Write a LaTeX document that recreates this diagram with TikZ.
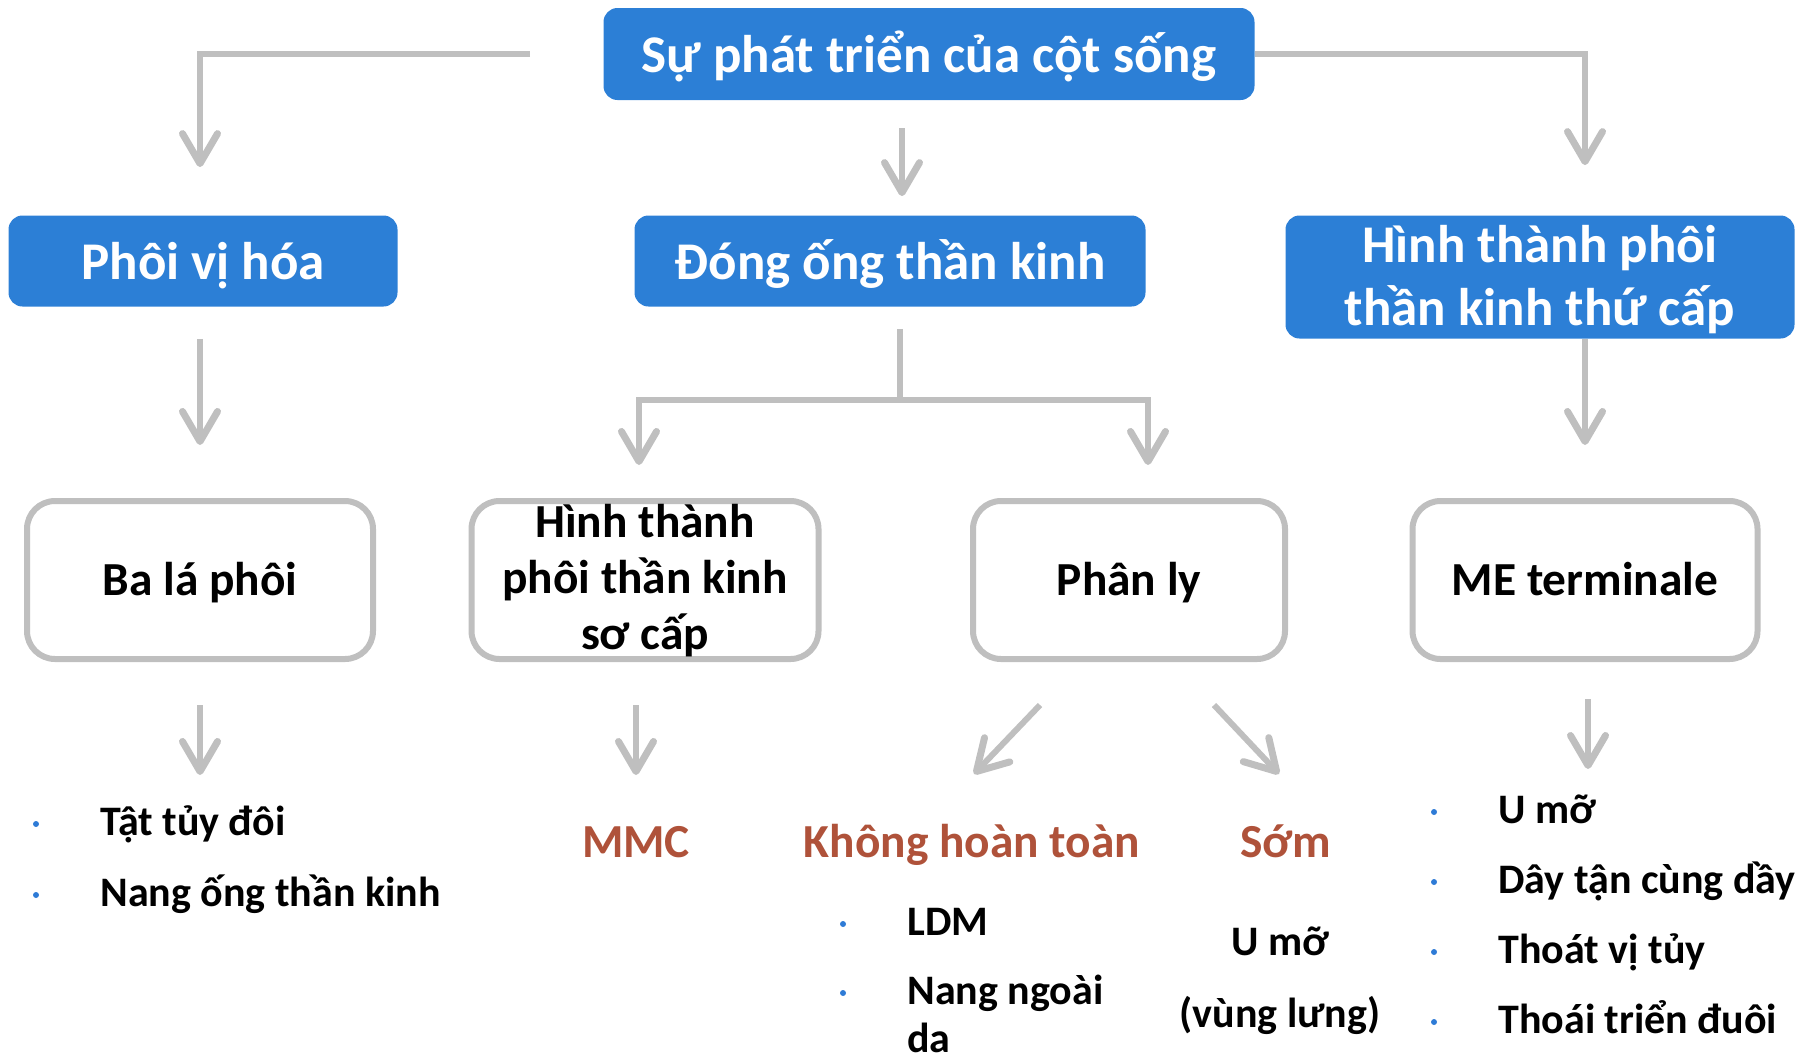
\documentclass[tikz,border=0pt]{standalone}
\usepackage{fontspec}
\setmainfont{Carlito}
\usepackage{tikz}
\usetikzlibrary{arrows.meta}

\definecolor{boxblue}{RGB}{44,127,214}
\definecolor{linegray}{RGB}{191,191,191}
\definecolor{rust}{RGB}{175,82,58}
\definecolor{dotblue}{RGB}{46,123,214}

\tikzset{
  bluebox/.style={fill=boxblue, rounded corners=7pt, text=white, inner sep=0pt,
    text height=18pt, text depth=0pt, font=\bfseries\fontsize{26.5}{31.5}\selectfont},
  graybox/.style={draw=linegray, line width=3pt, rounded corners=14pt, fill=white,
    inner sep=0pt, minimum height=79pt, text height=15pt, text depth=0pt,
    font=\bfseries\fontsize{23.7}{28.2}\selectfont},
  item/.style={anchor=base west, inner sep=0pt, font=\bfseries\fontsize{21}{25}\selectfont},
  plain/.style={anchor=base, inner sep=0pt, font=\bfseries\fontsize{21}{25}\selectfont},
  redtxt/.style={anchor=base, inner sep=0pt, text=rust, font=\bfseries\fontsize{23.7}{29}\selectfont},
  link/.style={draw=linegray, line width=3pt},
  arr/.style={link, -{Straight Barb[round, length=15pt, width=17.5pt, line width=3.5pt]}},
}

\begin{document}
\begin{tikzpicture}[x=0.5pt,y=0.5pt,yscale=-1]
    \useasboundingbox (0,0) rectangle (1818,1060);

    % top level
    \node[bluebox, minimum width=325.5pt, minimum height=46pt] (root) at (929,54) {Sự phát triển của cột sống};

    % second level
    \node[bluebox, minimum width=194.5pt, minimum height=45.5pt] (phoi) at (203,261) {Phôi vị hóa};
    \node[bluebox, minimum width=255.5pt, minimum height=45.5pt] (dong) at (890,261) {Đóng ống thần kinh};
    \node[bluebox, minimum width=254.5pt, minimum height=61.5pt, text height=0pt, text depth=15pt] (thuCap) at (1540,277)
        {\begin{tabular}[t]{@{}c@{}}Hình thành phôi\\thần kinh thứ cấp\end{tabular}};

    % third level
    \node[graybox, minimum width=173pt] (baLa) at (200,580) {Ba lá phôi};
    \node[graybox, minimum width=173.5pt, text height=0pt, text depth=43pt] (soCap) at (645,580)
        {\begin{tabular}[t]{@{}c@{}}Hình thành\\phôi thần kinh\\sơ cấp\end{tabular}};
    \node[graybox, minimum width=156pt] (phanLy) at (1129,580) {Phân ly};
    \node[graybox, minimum width=172.5pt] (meTerm) at (1585,580) {ME terminale};

    % bottom texts
    \node[item] (tat) at (100,835) {Tật tủy đôi};
    \node[item] (nangOng) at (100,906) {Nang ống thần kinh};
    \node[redtxt] (mmc) at (636,857) {MMC};
    \node[redtxt] (khong) at (972,857) {Không hoàn toàn};
    \node[redtxt] (som) at (1286,857) {Sớm};
    \node[item] (ldm) at (907,935) {LDM};
    \node[item] (ngoai) at (907,1004) {Nang ngoài};
    \node[item] (da) at ([yshift=24pt]ngoai.base west) {da};
    \node[plain] (umoA) at (1280,955) {U mỡ};
    \node[plain] (vungLung) at (1280,1027) {(vùng lưng)};
    \node[item] (umoB) at (1498,823) {U mỡ};
    \node[item] (day) at (1498,893) {Dây tận cùng dầy};
    \node[item] (thoat) at (1498,963) {Thoát vị tủy};
    \node[item] (thoai) at (1498,1033) {Thoái triển đuôi};

    \foreach \n in {tat,nangOng,ldm,ngoai,umoB,day,thoat,thoai}
        \fill[dotblue] ([xshift=-32pt,yshift=-5.5pt]\n.base west) circle (3);

    % arrows from the top box
    \draw[arr, shorten >=24pt] ([xshift=-36.5pt]root.west) -| (baLa.north |- phoi.north);
    \draw[arr, shorten <=14pt, shorten >=9.5pt] ([xshift=-13.5pt]root.south) -- ([xshift=-13.5pt]root.south |- dong.north);
    \draw[arr, shorten >=25pt] (root.east) -| (meTerm.north |- thuCap.north);

    % second level to third level
    \draw[arr, shorten <=16pt, shorten >=26.5pt] (baLa.north |- phoi.south) -- (baLa.north);
    \coordinate (split) at (900,400);
    \draw[link] ([xshift=5pt,yshift=11pt]dong.south) -- (split);
    \draw[arr, shorten >=16.5pt] (split) -| ([xshift=-3pt]soCap.north);
    \draw[arr, shorten >=16.5pt] (split) -| ([xshift=9.5pt]phanLy.north);
    \draw[arr, shorten >=26.5pt] (meTerm.north |- thuCap.south) -- (meTerm.north);

    % third level to bottom texts
    \draw[arr, shorten <=21.5pt] (baLa.south) -- ++(0,113);
    \draw[arr, shorten <=21.5pt] ([xshift=-4.5pt]soCap.south) -- ++(0,113);
    \draw[arr] ([xshift=-44.5pt,yshift=21.5pt]phanLy.south) -- ++(-66,69);
    \draw[arr] ([xshift=42.5pt,yshift=21.5pt]phanLy.south) -- ++(65,69);
    \draw[arr, shorten <=18.5pt] ([xshift=1.5pt]meTerm.south) -- ++(0,107);
\end{tikzpicture}
\end{document}
